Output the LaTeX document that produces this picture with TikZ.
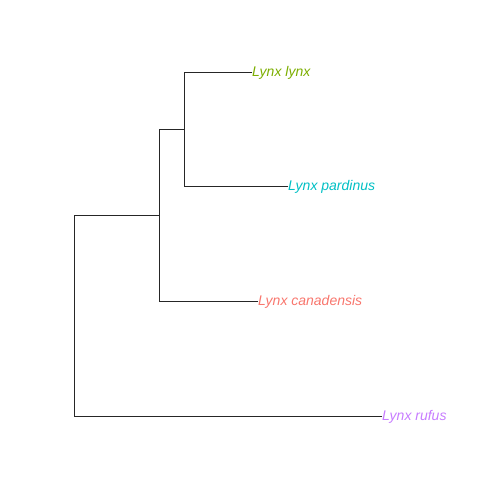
\documentclass[tikz,border=0pt]{standalone}
\usepackage{fontspec}
\setmainfont{Liberation Sans}
\begin{document}
\begin{tikzpicture}[x=1pt,y=-1pt,
  branch/.style={draw=black!85,line width=0.6pt,line cap=rect},
  tip/.style={anchor=west,inner sep=0pt,yshift=-1.2pt,font=\fontsize{14}{16}\selectfont\itshape}]
\definecolor{cred}{HTML}{F8766D}
\definecolor{cgreen}{HTML}{7CAE00}
\definecolor{ccyan}{HTML}{00BFC4}
\definecolor{cpurple}{HTML}{C77CFF}
\useasboundingbox (0,0) rectangle (504,504);
% internal nodes
\coordinate (root) at (74,215);
\coordinate (n1) at (159,215);
\coordinate (n2) at (184,129);
% tips
\coordinate (t1) at (252,72);
\coordinate (t2) at (288,186);
\coordinate (t3) at (258,301);
\coordinate (t4) at (382,416);
\node[tip,text=cgreen] (l1) at (t1) {Lynx lynx};
\node[tip,text=ccyan] (l2) at (t2) {Lynx pardinus};
\node[tip,text=cred] (l3) at (t3) {Lynx canadensis};
\node[tip,text=cpurple] (l4) at (t4) {Lynx rufus};
% vertical branches
\draw[branch] (root) -- (root |- t4);
\draw[branch] (n1 |- n2) -- (n1 |- t3);
\draw[branch] (n2 |- t1) -- (n2 |- t2);
% horizontal branches
\draw[branch] (root) -- (n1);
\draw[branch] (root |- t4) -- (t4);
\draw[branch] (n1 |- n2) -- (n2);
\draw[branch] (n1 |- t3) -- (t3);
\draw[branch] (n2 |- t1) -- (t1);
\draw[branch] (n2 |- t2) -- (t2);
\end{tikzpicture}
\end{document}
